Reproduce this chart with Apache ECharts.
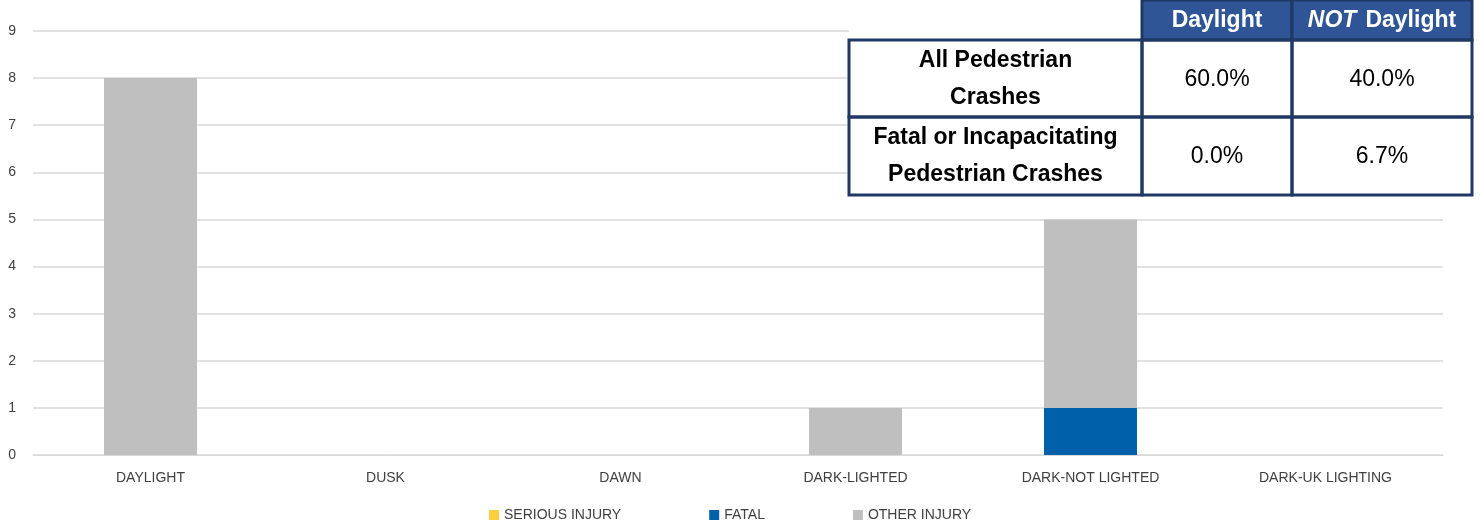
<!DOCTYPE html>
<html>
<head>
<meta charset="utf-8">
<script src="https://cdn.jsdelivr.net/npm/echarts@6/dist/echarts.min.js"></script>
<style>
  html, body { margin: 0; padding: 0; background: #fff; }
  #chart { width: 1481px; height: 523px; }
</style>
</head>
<body>
<div id="chart"></div>
<script>
  var categories = ['DAYLIGHT', 'DUSK', 'DAWN', 'DARK-LIGHTED', 'DARK-NOT LIGHTED', 'DARK-UK LIGHTING'];
  var seriousInjury = [0, 0, 0, 0, 0, 0];
  var fatal = [0, 0, 0, 0, 1, 0];
  var otherInjury = [8, 0, 0, 1, 4, 0];

  var tableCols = ['Daylight', 'NOT Daylight'];
  var tableRows = [['All Pedestrian', 'Crashes'], ['Fatal or Incapacitating', 'Pedestrian Crashes']];
  var tableVals = [['60.0%', '40.0%'], ['0.0%', '6.7%']];

  var font = 'Liberation Sans, sans-serif';
  var navy = '#1F3864';
  var hdrBlue = '#2F5597';

  // table drawn as graphic overlay
  var colX = [849, 1142, 1292, 1472];
  var rowY = [0, 40, 117, 195];
  var g = [];
  // white background (hides gridlines behind the table)
  g.push({type: 'rect', shape: {x: colX[0], y: 0, width: colX[3] - colX[0], height: rowY[3]},
    style: {fill: '#fff'}, z: 10});
  // header cells
  for (var c = 0; c < 2; c++) {
    g.push({type: 'rect', shape: {x: colX[c + 1], y: rowY[0], width: colX[c + 2] - colX[c + 1], height: rowY[1] - rowY[0]},
      style: {fill: hdrBlue, stroke: navy, lineWidth: 3}, z: 11});
  }
  g.push({type: 'text', x: (colX[1] + colX[2]) / 2, y: 21, z: 12,
    style: {text: tableCols[0], fill: '#fff', font: 'bold 23px ' + font, textAlign: 'center', textVerticalAlign: 'middle'}});
  g.push({type: 'text', x: (colX[2] + colX[3]) / 2, y: 21, z: 12,
    style: {text: '{i|NOT}{b|' + tableCols[1].replace('NOT ', '') + '}', textAlign: 'center', textVerticalAlign: 'middle',
      rich: {i: {font: 'italic bold 23px ' + font, fill: '#fff', padding: [0, 9, 0, 0]},
             b: {font: 'bold 23px ' + font, fill: '#fff'}}}});
  // body cells
  for (var r = 0; r < 2; r++) {
    for (var c2 = 0; c2 < 3; c2++) {
      g.push({type: 'rect', shape: {x: colX[c2], y: rowY[r + 1], width: colX[c2 + 1] - colX[c2], height: rowY[r + 2] - rowY[r + 1]},
        style: {fill: 'none', stroke: navy, lineWidth: 3}, z: 11});
    }
    var cy = (rowY[r + 1] + rowY[r + 2]) / 2;
    g.push({type: 'text', x: (colX[0] + colX[1]) / 2, y: cy - 18, z: 12,
      style: {text: tableRows[r][0], fill: '#000', font: 'bold 23px ' + font, textAlign: 'center', textVerticalAlign: 'middle'}});
    g.push({type: 'text', x: (colX[0] + colX[1]) / 2, y: cy + 19, z: 12,
      style: {text: tableRows[r][1], fill: '#000', font: 'bold 23px ' + font, textAlign: 'center', textVerticalAlign: 'middle'}});
    for (var v = 0; v < 2; v++) {
      g.push({type: 'text', x: (colX[v + 1] + colX[v + 2]) / 2, y: cy + 1, z: 12,
        style: {text: tableVals[r][v], fill: '#000', font: '23px ' + font, textAlign: 'center', textVerticalAlign: 'middle'}});
    }
  }

  var myChart = echarts.init(document.getElementById('chart'));
  var option = {
    animation: false,
    color: ['#FFCF3F', '#0060AA', '#BFBFBF'],
    textStyle: {fontFamily: font},
    grid: {left: 33, right: 38, top: 31, bottom: 68},
    legend: {
      bottom: -4,
      left: 484,
      itemWidth: 10,
      itemHeight: 10,
      itemGap: 88,
      icon: 'rect',
      textStyle: {color: '#404040', fontSize: 14, fontFamily: font},
      data: ['SERIOUS INJURY', 'FATAL', 'OTHER INJURY']
    },
    xAxis: {
      type: 'category',
      data: categories,
      axisLine: {lineStyle: {color: '#D9D9D9'}},
      axisTick: {show: false},
      axisLabel: {color: '#404040', fontSize: 14, margin: 16, fontFamily: font}
    },
    yAxis: {
      type: 'value',
      min: 0,
      max: 9,
      interval: 1,
      axisLine: {show: false},
      axisTick: {show: false},
      axisLabel: {color: '#404040', fontSize: 14, margin: 17, fontFamily: font},
      splitLine: {lineStyle: {color: '#D9D9D9', width: 1.5}}
    },
    series: [
      {name: 'SERIOUS INJURY', type: 'bar', stack: 'a', data: seriousInjury, barWidth: 93},
      {name: 'FATAL', type: 'bar', stack: 'a', data: fatal, barWidth: 93},
      {name: 'OTHER INJURY', type: 'bar', stack: 'a', data: otherInjury, barWidth: 93}
    ],
    graphic: g
  };
  myChart.setOption(option);
</script>
</body>
</html>
